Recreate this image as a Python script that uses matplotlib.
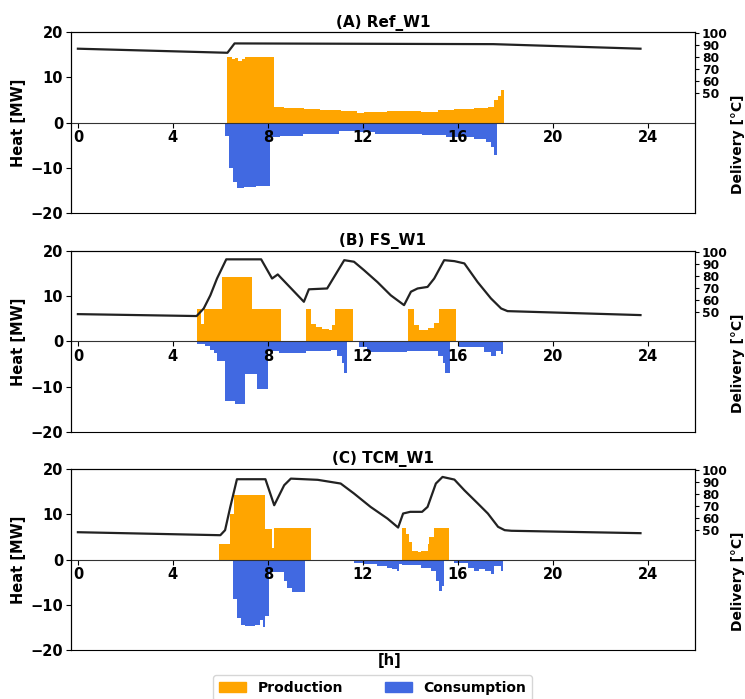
import numpy as np
import matplotlib
matplotlib.use("Agg")
import matplotlib.pyplot as plt
from matplotlib.patches import Patch

plt.rcParams["font.family"] = ["DejaVu Sans"]
plt.rcParams["font.weight"] = "bold"
plt.rcParams["axes.labelweight"] = "bold"

PROD_COLOR = "#FFA500"
CONS_COLOR = "#4169E1"

# ─── Data (hours, MW / °C) ────────────────────────────────────────────────────
# (A) Ref_W1
a_prod_edges = [6.3, 6.48, 6.62, 6.76, 6.9, 7.04, 8.27, 8.67, 9.52, 10.22, 11.07, 11.77,
                12.05, 13.04, 14.45, 15.15, 15.86, 16.7, 17.26, 17.55, 17.69, 17.83, 17.94]
a_prod = [14.4, 14.1, 14.3, 13.7, 14.0, 14.4, 3.4, 3.2, 3.0, 2.8, 2.6, 2.1,
          2.4, 2.6, 2.4, 2.8, 3.0, 3.2, 3.5, 4.9, 6.0, 7.3]
a_cons_edges = [6.21, 6.35, 6.55, 6.72, 7.0, 7.5, 8.08, 8.5, 9.5, 10.5, 11.0, 11.7,
                12.5, 14.5, 15.5, 16.7, 17.2, 17.4, 17.55, 17.66]
a_cons = [-3.0, -10.0, -13.0, -14.5, -14.2, -13.9, -3.1, -3.0, -2.6, -2.4, -1.9, -2.1,
          -2.4, -2.7, -3.1, -3.5, -4.2, -5.3, -7.2]
a_temp_h = [0, 6.3, 6.6, 17.5, 23.7]
a_temp = [87.2, 83.8, 91.6, 91.0, 87.2]

# (B) FS_W1
b_prod_edges = [5.03, 5.2, 5.32, 6.05, 7.33, 8.55, 9.59, 9.8, 10.01, 10.3, 10.58, 10.7,
                10.81, 11.59, 13.91, 14.14, 14.38, 14.73, 15.01, 15.22, 15.93]
b_prod = [7.2, 3.9, 7.2, 14.3, 7.2, 0, 7.2, 3.9, 3.2, 2.7, 2.5, 3.6,
          7.2, 0, 7.2, 3.7, 2.6, 3.0, 4.0, 7.2]
b_cons_edges = [5.01, 5.37, 5.58, 5.72, 5.86, 6.21, 6.6, 7.06, 7.55, 8.02, 8.46, 9.59,
                10.65, 10.93, 11.14, 11.21, 11.35, 11.84, 12.19, 12.62, 13.88, 15.15,
                15.36, 15.46, 15.69, 16.07, 17.12, 17.4, 17.61, 17.83, 17.9]
b_cons = [-0.6, -1.1, -1.9, -2.6, -4.4, -13.2, -13.8, -7.2, -10.4, -2.0, -2.6,
          -2.2, -1.8, -3.2, -4.7, -6.9, 0, -1.3, -2.3, -2.4, -2.1,
          -3.2, -4.7, -7.0, 0, -1.3, -2.4, -3.2, -2.1, -2.8]
b_temp_h = [0, 5.0, 5.3, 5.58, 5.86, 6.25, 7.72, 8.18, 8.42, 9.52, 9.73, 10.5, 11.22,
            11.63, 12.05, 12.62, 13.18, 13.74, 14.03, 14.31, 14.73, 15.01, 15.43, 15.86,
            16.28, 16.84, 17.4, 17.83, 18.1, 23.7]
b_temp = [48.3, 46.7, 53, 64, 78, 94, 94, 78, 81.4, 58.6, 69, 69.7, 93.3,
          92, 85, 75, 64, 55.8, 67, 69.7, 71, 78, 93.3, 92.5,
          90.6, 75, 61.4, 53, 50.8, 47.5]

# (C) TCM_W1
c_prod_edges = [5.93, 6.42, 6.56, 7.9, 8.18, 8.27, 9.84, 13.67, 13.81, 13.95, 14.09,
                14.31, 14.45, 14.73, 14.8, 15.01, 15.64]
c_prod = [3.4, 10.0, 14.3, 6.8, 2.5, 7.0, 0, 7.0, 5.6, 3.8, 1.9,
          1.6, 1.9, 3.4, 4.9, 7.0]
c_cons_edges = [6.52, 6.7, 6.85, 7.06, 7.48, 7.69, 7.79, 7.9, 8.04, 8.67, 8.82, 9.03,
                9.56, 10.93, 11.63, 12.05, 12.62, 13.04, 13.25, 13.43, 13.53, 13.67,
                14.45, 14.87, 15.08, 15.22, 15.32, 15.43, 15.86, 16.42, 16.7, 16.91,
                17.13, 17.41, 17.55, 17.83, 17.9]
c_cons = [-8.8, -12.9, -14.4, -14.7, -14.4, -13.3, -15.0, -12.5, -2.8, -4.7, -6.2, -7.1,
          0, -0.4, -0.7, -1.0, -1.4, -1.8, -2.1, -2.5, -0.9,
          -1.3, -1.8, -2.5, -4.7, -7.0, -5.8, 0, -0.7, -1.8, -2.5,
          -2.1, -2.5, -3.3, -1.4, -2.5]
c_temp_h = [0, 6.0, 6.2, 6.42, 6.7, 7.9, 8.27, 8.69, 8.97, 10.1, 11.07, 11.63, 12.33,
            13.04, 13.49, 13.7, 14.0, 14.5, 14.73, 15.08, 15.36, 15.86, 16.28, 16.85,
            17.27, 17.7, 17.98, 18.26, 23.7]
c_temp = [48.3, 45.8, 50, 69.4, 92.5, 92.5, 70.8, 87.5, 93, 92, 88.9, 80.6, 69.4,
          59.7, 52.2, 63.9, 65.3, 65.3, 69.4, 88.9, 94.4, 92.2, 83.3, 72.2,
          63.9, 52.8, 50, 49.5, 47.5]

panels = [
    ("(A) Ref_W1", a_prod_edges, a_prod, a_cons_edges, a_cons, a_temp_h, a_temp),
    ("(B) FS_W1", b_prod_edges, b_prod, b_cons_edges, b_cons, b_temp_h, b_temp),
    ("(C) TCM_W1", c_prod_edges, c_prod, c_cons_edges, c_cons, c_temp_h, c_temp),
]

# ─── Figure ───────────────────────────────────────────────────────────────────
fig = plt.figure(figsize=(7.45, 6.99), dpi=100)
bottoms = [0.695, 0.382, 0.070]

for (title, pe, pv, ce, cv, th, tv), b in zip(panels, bottoms):
    ax = fig.add_axes([0.095, b, 0.838, 0.259])
    ax.stairs(pv, pe, fill=True, color=PROD_COLOR, baseline=0)
    ax.stairs(cv, ce, fill=True, color=CONS_COLOR, baseline=0)
    ax.set_xlim(-0.3, 26)
    ax.set_ylim(-20, 20)
    ax.set_xticks(range(0, 25, 4))
    ax.set_yticks([-20, -10, 0, 10, 20])
    ax.spines["bottom"].set_position(("data", 0))
    ax.spines["bottom"].set_color("#333333")
    ax.tick_params(axis="both", labelsize=10.5, pad=2)
    ax.set_ylabel("Heat [MW]", fontsize=10.5)
    ax.yaxis.set_label_coords(-0.072, 0.5)
    ax.set_title(title, fontsize=11, fontweight="bold", pad=4)

    ax2 = ax.twinx()
    ax2.plot(th, tv, color="#222222", lw=1.6)
    ax2.set_ylim(-50, 101)
    ax2.set_yticks([50, 60, 70, 80, 90, 100])
    ax2.tick_params(axis="y", labelsize=8.8, pad=2, length=3)
    ax2.set_ylabel("Delivery [°C]", fontsize=10)
    ax2.yaxis.set_label_coords(1.058, 0.38)

fig.text(0.523, 1 - 660 / 699, "[h]", ha="center", va="center", fontsize=10.5, fontweight="bold")

handles = [Patch(color=PROD_COLOR, label="Production"), Patch(color=CONS_COLOR, label="Consumption")]
fig.legend(handles=handles, loc="lower center", bbox_to_anchor=(0.5, -0.012), ncol=2,
           fontsize=10, columnspacing=3.0, frameon=True)

plt.savefig("out.png", dpi=100)
plt.close()
